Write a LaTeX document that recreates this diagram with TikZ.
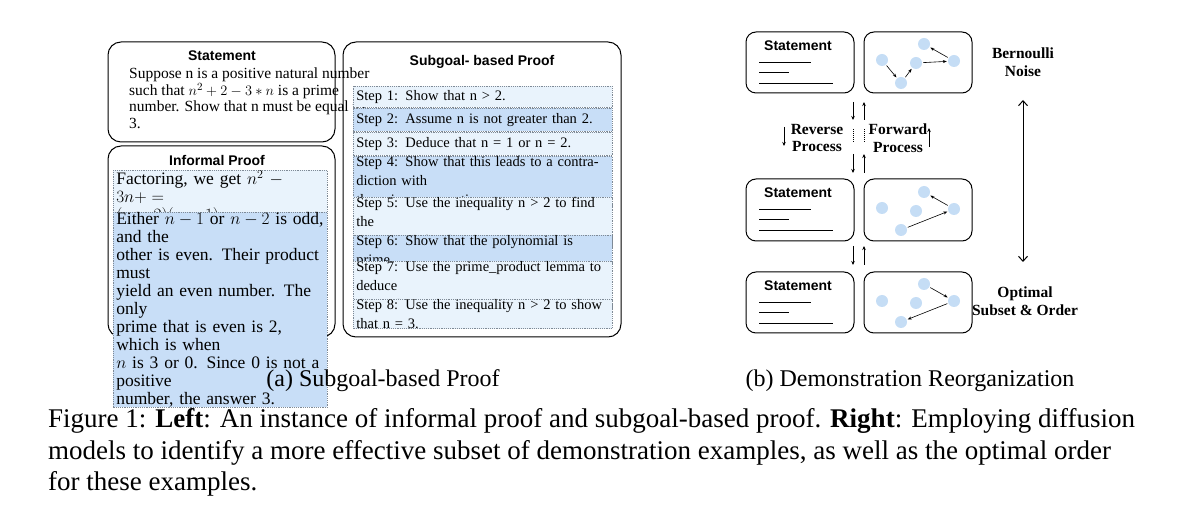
\documentclass[tikz,border=0pt]{standalone}
\usepackage{fontspec}
\setmainfont{Liberation Serif}
\setsansfont{Liberation Sans}
\usetikzlibrary{arrows.meta}
\definecolor{lightb}{HTML}{E9F3FC}
\definecolor{darkb}{HTML}{C8DEF7}
\definecolor{dotc}{HTML}{C5DDF5}
\definecolor{dashc}{HTML}{7F8A96}
\begin{document}
\begin{tikzpicture}[x=1pt,y=-1pt,
  panel/.style={draw=black,line width=1pt,rounded corners=13pt},
  title/.style={font=\sffamily\bfseries\fontsize{14}{16}\selectfont},
  dbox/.style={draw=dashc,line width=0.6pt,dash pattern=on 1.2pt off 1pt,anchor=north west,inner sep=0pt},
  stepbox/.style={dbox,minimum width=259pt,text width=253pt,align=left,font=\fontsize{14.5}{19}\selectfont},
  ip/.style={dbox,minimum width=214pt,text width=208pt,align=left,font=\fontsize{17.5}{18}\selectfont},
  dot/.style={circle,fill=dotc,minimum size=12pt,inner sep=0pt},
  sarr/.style={-{Stealth[length=4pt,width=3pt]},line width=0.6pt,shorten <=1pt,shorten >=1pt},
  parr/.style={-{Stealth[length=4pt,width=3.5pt]},line width=1pt},
  lbl/.style={font=\bfseries\fontsize{15.5}{17.5}\selectfont,align=center},
  sline/.style={line width=0.8pt}]
\useasboundingbox (0,0) rectangle (1200,518);
% ---------- left ----------
\draw[panel] (108,42) rectangle (335,142);
\node[title] (t1) at (222,56) {Statement};
\node[anchor=north west,align=left,font=\fontsize{15.5}{16.5}\selectfont,inner sep=0pt] (st) at (129,68)
 {Suppose n is a positive natural number\\ such that $n^2+2-3*n$ is a prime\\ number. Show that n must be equal to\\ 3.};
\draw[panel] (108,146) rectangle (335,337);
\node[title] (t2) at (217,160) {Informal Proof};
\node[ip,fill=lightb,minimum height=42pt] (ip1) at (113,170) {Factoring, we get $n^2-3n+=$\\ $(n-2)(n-1)$.};
\node[ip,fill=darkb,minimum height=116pt] (ip2) at (113,212) {Either $n-1$ or $n-2$ is odd, and the\\ other is even. Their product must\\ yield an even number. The only\\ prime that is even is 2, which is when\\ $n$ is 3 or 0. Since 0 is not a positive\\ number, the answer 3.};
\draw[panel] (343,42) rectangle (621,337);
\node[title] (t3) at (482,62) {Subgoal- based Proof};
\node[stepbox,fill=lightb,minimum height=21pt] (s1) at (353,86) {Step 1: Show that n > 2.};
\node[stepbox,fill=darkb,minimum height=23pt] (s2) at (353,108) {Step 2: Assume n is not greater than 2.};
\node[stepbox,fill=lightb,minimum height=23pt] (s3) at (353,132) {Step 3: Deduce that n = 1 or n = 2.};
\node[stepbox,fill=darkb,minimum height=40pt] (s4) at (353,156) {Step 4: Show that this leads to a contradiction with\\ the prime assumption.};
\node[stepbox,fill=lightb,minimum height=37pt] (s5) at (353,197) {Step 5: Use the inequality n > 2 to find the\\ expression for the given polynomial.};
\node[stepbox,fill=darkb,minimum height=25pt] (s6) at (353,235) {Step 6: Show that the polynomial is prime.};
\node[stepbox,fill=lightb,minimum height=37pt] (s7) at (353,261) {Step 7: Use the prime\_product lemma to deduce\\ that either n - 1 = 1 or n - 2 = 1.};
\node[stepbox,fill=lightb,minimum height=26pt] (s8) at (353,299) {Step 8: Use the inequality n > 2 to show that n = 3.};
% ---------- right ----------
\foreach \y/\h [count=\i] in {32/93,179/241,272/333}{
  \draw[panel,rounded corners=10pt] (746,\y) rectangle (854,\h);
  \draw[panel,rounded corners=10pt] (864,\y) rectangle (972,\h);
  \node[title] (rt\i) at (798,\y+14) {Statement};
  \draw[sline] (759,\y+30) -- (811,\y+30);
  \draw[sline] (759,\y+40) -- (789,\y+40);
  \draw[sline] (759,\y+51) -- (833,\y+51);
}
% dots
\foreach \n/\x/\y in {a1/882/60,a2/901/83,a3/916/63,a4/924/44,a5/954/61,
                      b1/882/208,b2/901/230,b3/916/211,b4/924/192,b5/954/209,
                      c1/882/301,c2/901/322,c3/916/303,c4/924/284,c5/954/301}
  \node[dot] (\n) at (\x,\y) {};
\draw[sarr] (a1) -- (a2); \draw[sarr] (a2) -- (a3); \draw[sarr] (a3) -- (a5); \draw[sarr] (a5) -- (a4);
\draw[sarr] (b2) -- (b5); \draw[sarr] (b5) -- (b4);
\draw[sarr] (c4) -- (c5); \draw[sarr] (c5) -- (c2);
% process arrows
\coordinate (d1s) at (853,102); \coordinate (d1e) at (853,120);
\coordinate (u1s) at (864,120); \coordinate (u1e) at (864,102);
\coordinate (d2s) at (853,154); \coordinate (d2e) at (853,173);
\coordinate (u2s) at (864,173); \coordinate (u2e) at (864,154);
\coordinate (d3s) at (853,246); \coordinate (d3e) at (853,265);
\coordinate (u3s) at (864,265); \coordinate (u3e) at (864,246);
\foreach \i in {1,2,3}{\draw[parr] (d\i s) -- (d\i e); \draw[parr] (u\i s) -- (u\i e);}
\draw[line width=0.8pt,dash pattern=on 1pt off 1pt] (853,129) -- (853,143);
\draw[line width=0.8pt,dash pattern=on 1pt off 1pt] (864,129) -- (864,143);
\node[lbl] (rev) at (817,138) {Reverse\\Process};
\coordinate (ra1) at (784,127); \coordinate (ra2) at (784,146);
\draw[parr] (ra1) -- (ra2);
\node[lbl] (fwd) at (898,138) {Forward\\Process};
\coordinate (fa1) at (929,147); \coordinate (fa2) at (929,128);
\draw[parr] (fa1) -- (fa2);
\node[lbl] (bn) at (1023,62) {Bernoulli\\Noise};
\node[lbl] (os) at (1025,301) {Optimal\\Subset \& Order};
\coordinate (da1) at (1023,100); \coordinate (da2) at (1023,262);
\draw[{Straight Barb[length=5pt,width=9pt]}-{Straight Barb[length=5pt,width=9pt]},line width=1pt] (da1) -- (da2);
% captions
\node[font=\fontsize{24}{28}\selectfont] (ca) at (383,381) {(a) Subgoal-based Proof};
\node[font=\fontsize{24}{28}\selectfont] (cb) at (910,381) {(b) Demonstration Reorganization};
\node[anchor=west,font=\fontsize{27}{30}\selectfont,inner sep=0pt] (f1) at (48,421) {Figure 1: \textbf{Left}: An instance of informal proof and subgoal-based proof. \textbf{Right}: Employing diffusion};
\node[anchor=west,font=\fontsize{27}{30}\selectfont,inner sep=0pt] (f2) at (48,453) {models to identify a more effective subset of demonstration examples, as well as the optimal order};
\node[anchor=west,font=\fontsize{27}{30}\selectfont,inner sep=0pt] (f3) at (48,484) {for these examples.};
\end{tikzpicture}
\end{document}
